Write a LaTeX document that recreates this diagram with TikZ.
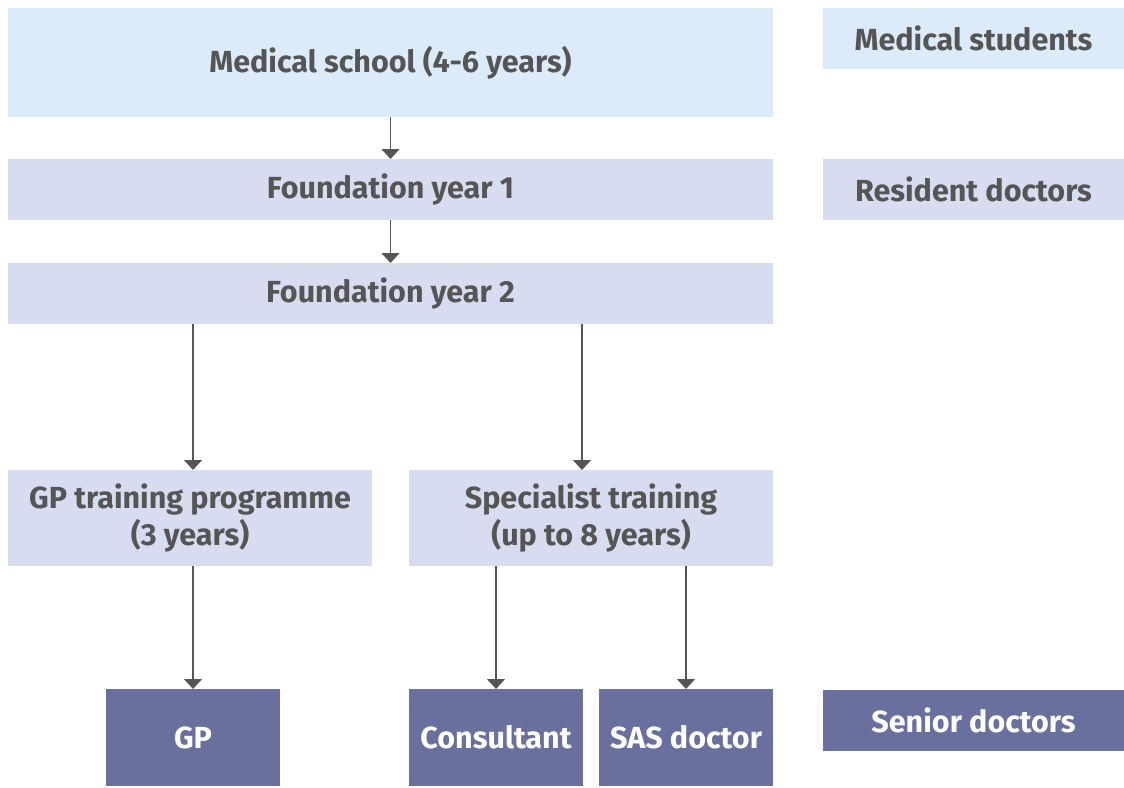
\documentclass[tikz,border=0pt]{standalone}
\usepackage{fontspec}
\setmainfont{Fira Sans}
\usetikzlibrary{arrows.meta}
\definecolor{lblue}{HTML}{DCEBF9}
\definecolor{lav}{HTML}{D7DCF0}
\definecolor{purp}{HTML}{6A709E}
\definecolor{txt}{HTML}{555555}
\definecolor{arr}{HTML}{555555}
\begin{document}
\begin{tikzpicture}[x=1pt,y=-1pt,
  box/.style={rectangle,inner sep=0pt,outer sep=0pt,align=center,
    font=\fontsize{30.5}{37}\selectfont\bfseries,text=txt},
  blue/.style={box,fill=lblue},
  lavbox/.style={box,fill=lav},
  dark/.style={box,fill=purp,text=white},
  conn/.style={draw=arr,line width=1.4pt,-{Triangle[width=18pt,length=10pt]}}]
\useasboundingbox (0,0) rectangle (1124,787);
\node[blue,minimum width=765pt,minimum height=109pt] (ms) at (390.5,62.5) {Medical school (4-6 years)};
\node[blue,minimum width=301pt,minimum height=61pt] (mst) at (973.5,38.5) {Medical students};
\node[lavbox,minimum width=765pt,minimum height=61pt] (fy1) at (390.5,189.5) {Foundation year 1};
\node[lavbox,minimum width=301pt,minimum height=61pt] (rd) at (973.5,189.5) {Resident doctors};
\node[lavbox,minimum width=765pt,minimum height=61pt] (fy2) at (390.5,293.5) {Foundation year 2};
\node[lavbox,minimum width=364pt,minimum height=96pt] (gpt) at (190,518) {GP training programme\\(3 years)};
\node[lavbox,minimum width=364pt,minimum height=96pt] (spt) at (591,518) {Specialist training\\(up to 8 years)};
\node[dark,minimum width=174pt,minimum height=97pt] (gp) at (193,737.5) {GP};
\node[dark,minimum width=174pt,minimum height=97pt] (con) at (496,737.5) {Consultant};
\node[dark,minimum width=174pt,minimum height=97pt] (sas) at (686,737.5) {SAS doctor};
\node[dark,minimum width=301pt,minimum height=61pt] (sen) at (973.5,720.5) {Senior doctors};
\coordinate (a1) at (582,0);
\draw[conn] (ms.south) -- (fy1.north);
\draw[conn] (fy1.south) -- (fy2.north);
\draw[conn] (fy2.south -| gp.north) -- (gpt.north -| gp.north);
\draw[conn] (fy2.south -| a1) -- (spt.north -| a1);
\draw[conn] (gpt.south -| gp.north) -- (gp.north);
\draw[conn] (spt.south -| con.north) -- (con.north);
\draw[conn] (spt.south -| sas.north) -- (sas.north);
\end{tikzpicture}
\end{document}
